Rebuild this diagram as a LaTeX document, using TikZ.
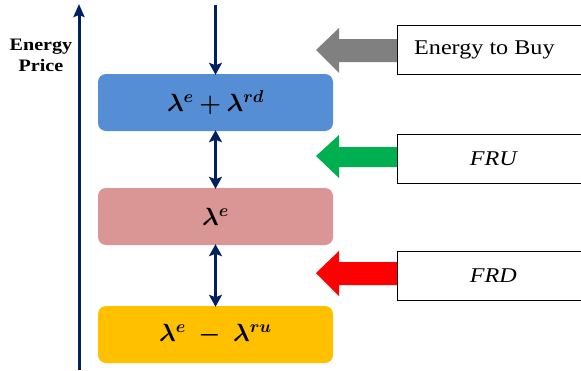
\documentclass[tikz,border=0pt]{standalone}
\usepackage{fontspec}
\setmainfont{Liberation Serif}[FakeStretch=1.15, BoldFont={Liberation Serif Bold}, ItalicFont={Liberation Serif Italic}]
\usepackage{amsmath,bm}
\usetikzlibrary{arrows.meta}
\definecolor{navy}{RGB}{0,32,96}
\definecolor{boxblue}{RGB}{85,142,213}
\definecolor{boxpink}{RGB}{217,150,148}
\definecolor{boxyellow}{RGB}{255,192,0}
\definecolor{arrgray}{RGB}{128,128,128}
\definecolor{arrgreen}{RGB}{0,176,80}
\tikzset{
  pricebox/.style={rounded corners=8pt, minimum width=235pt, minimum height=57pt, inner sep=0pt, font=\fontsize{24}{27}\selectfont},
  labelbox/.style={draw=black, line width=0.8pt, fill=white, minimum width=192pt, minimum height=49pt, anchor=west, inner sep=0pt},
  navyarrow/.style={draw=navy, line width=2.6pt, -{Stealth[length=12pt,width=13pt,inset=2.5pt]}, shorten >=-1pt},
  navydouble/.style={draw=navy, line width=2.6pt, {Stealth[length=12pt,width=13pt,inset=2.5pt]}-{Stealth[length=12pt,width=13pt,inset=2.5pt]}, shorten >=-1pt, shorten <=-1pt}
}
\begin{document}
\begin{tikzpicture}[x=1pt,y=-1pt]
\useasboundingbox (0,0) rectangle (581,370);
% axis
\coordinate (axb) at (79,370);
\coordinate (axt) at (79,4);
\draw[draw=navy, line width=3pt, -{Stealth[length=13pt,width=11pt,inset=2pt]}] (axb) -- (axt);
\node[font=\bfseries\fontsize{17.5}{21}\selectfont, align=center] (axlab) at (41,55) {Energy\\Price};
% price boxes
\node[pricebox, fill=boxblue] (blue) at (215.5,102.5) {$\bm{\lambda^e + \lambda^{rd}}$};
\node[pricebox, fill=boxpink] (pink) at (215.5,216.5) {$\bm{\lambda^e}$};
\node[pricebox, fill=boxyellow] (yellow) at (215.5,334.5) {$\bm{\lambda^e \;-\; \lambda^{ru}}$};
% navy arrows
\coordinate (topin) at (215.5,5);
\draw[navyarrow] (topin) -- (blue.north);
\draw[navydouble] (blue.south) -- (pink.north);
\draw[navydouble] (pink.south) -- (yellow.north);
% label boxes
\node[labelbox, font=\fontsize{21}{24}\selectfont] (buy) at (397,49.5) {Energy to Buy\hspace*{18pt}};
\node[labelbox, font=\itshape\fontsize{21}{24}\selectfont] (fru) at (397,158.5) {FRU};
\node[labelbox, font=\itshape\fontsize{21}{24}\selectfont] (frd) at (397,275.5) {FRD};
% block arrows
\fill[arrgray] (buy.west |- 0,39) -- (339,39) -- (339,28) -- (316,50) -- (339,73) -- (339,62) -- (buy.west |- 0,62) -- cycle;
\fill[arrgreen] (fru.west |- 0,147) -- (339,147) -- (339,135) -- (316,156) -- (339,178) -- (339,167) -- (fru.west |- 0,167) -- cycle;
\fill[red] (frd.west |- 0,262) -- (339,262) -- (339,251) -- (316,273) -- (339,296) -- (339,285) -- (frd.west |- 0,285) -- cycle;
\end{tikzpicture}
\end{document}
